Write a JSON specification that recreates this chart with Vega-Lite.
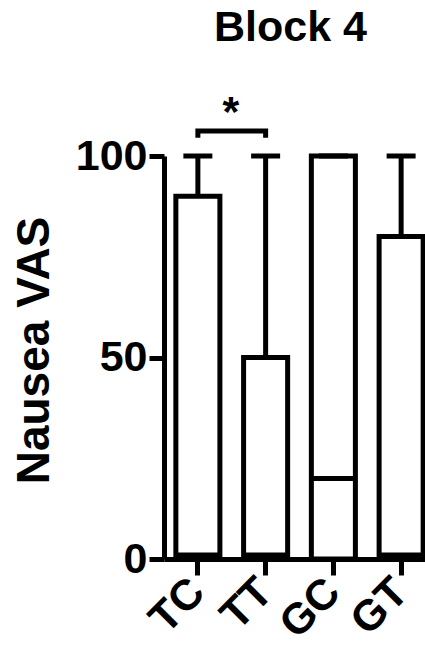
{
  "$schema": "https://vega.github.io/schema/vega-lite/v6.json",
  "autosize": {"type": "none"},
  "padding": {"left": 164, "top": 156, "right": 0, "bottom": 88},
  "width": 261,
  "height": 403,
  "background": "white",
  "title": {"text": "Block 4", "fontSize": 43, "font": "Liberation Sans", "fontWeight": "bold", "color": "black", "anchor": "middle", "offset": 42, "dx": -4},
  "config": {"view": {"stroke": null}, "axis": {"grid": false, "domainColor": "black", "tickColor": "black", "labelColor": "black", "titleColor": "black", "labelFont": "Liberation Sans", "titleFont": "Liberation Sans", "labelFontWeight": "bold", "titleFontWeight": "bold", "domainWidth": 5, "tickWidth": 5}},
  "datasets": {
    "groups": [
      {"group": "TC", "value": 90, "hi": 100, "low": 1},
      {"group": "TT", "value": 50, "hi": 100, "low": 1},
      {"group": "GC", "value": 100, "hi": 100, "low": 20},
      {"group": "GT", "value": 80, "hi": 100, "low": 1}
    ],
    "bracket": [
      {"group": "TC", "y": 104.5, "order": 1},
      {"group": "TC", "y": 106.2, "order": 2},
      {"group": "TT", "y": 106.2, "order": 3},
      {"group": "TT", "y": 104.5, "order": 4}
    ],
    "star": [{"group": "TC", "y": 107.4, "label": "*"}]
  },
  "encoding": {
    "x": {"field": "group", "type": "nominal", "sort": ["TC", "TT", "GC", "GT"],
      "scale": {"domain": ["TC", "TT", "GC", "GT"], "range": [0, 271], "paddingInner": 0.35, "paddingOuter": 0.175},
      "axis": {"title": null, "labelAngle": -45, "labelFontSize": 43, "tickSize": 16, "labelPadding": 10, "labelAlign": "right", "labelBaseline": "middle"}}
  },
  "layer": [
    {
      "data": {"name": "groups"},
      "mark": {"type": "rule", "color": "black", "strokeWidth": 5},
      "encoding": {
        "y": {"field": "value", "type": "quantitative", "scale": {"domain": [0, 100], "nice": false, "zero": true},
          "axis": {"values": [0, 50, 100], "title": "Nausea VAS", "titleFontSize": 46, "labelFontSize": 43, "tickSize": 15, "labelPadding": 2, "titlePadding": 17, "titleY": 194}},
        "y2": {"field": "hi"}
      }
    },
    {
      "data": {"name": "groups"},
      "mark": {"type": "bar", "fill": "white", "stroke": "black", "strokeWidth": 5, "strokeJoin": "miter"},
      "encoding": {"y": {"field": "value", "type": "quantitative"}}
    },
    {
      "data": {"name": "groups"},
      "mark": {"type": "tick", "orient": "horizontal", "color": "black", "size": 29, "thickness": 5, "opacity": 1},
      "encoding": {"y": {"field": "hi", "type": "quantitative"}}
    },
    {
      "data": {"name": "groups"},
      "mark": {"type": "tick", "orient": "horizontal", "color": "black", "size": 44, "thickness": 5, "opacity": 1},
      "encoding": {"y": {"field": "low", "type": "quantitative"}}
    },
    {
      "data": {"name": "bracket"},
      "mark": {"type": "line", "color": "black", "strokeWidth": 5, "strokeJoin": "miter", "clip": false},
      "encoding": {"y": {"field": "y", "type": "quantitative"}, "order": {"field": "order"}}
    },
    {
      "data": {"name": "star"},
      "mark": {"type": "text", "font": "Liberation Sans", "fontWeight": "bold", "fontSize": 43, "color": "black", "dx": 33, "align": "center", "baseline": "alphabetic"},
      "encoding": {"y": {"field": "y", "type": "quantitative"}, "text": {"field": "label"}}
    }
  ]
}
